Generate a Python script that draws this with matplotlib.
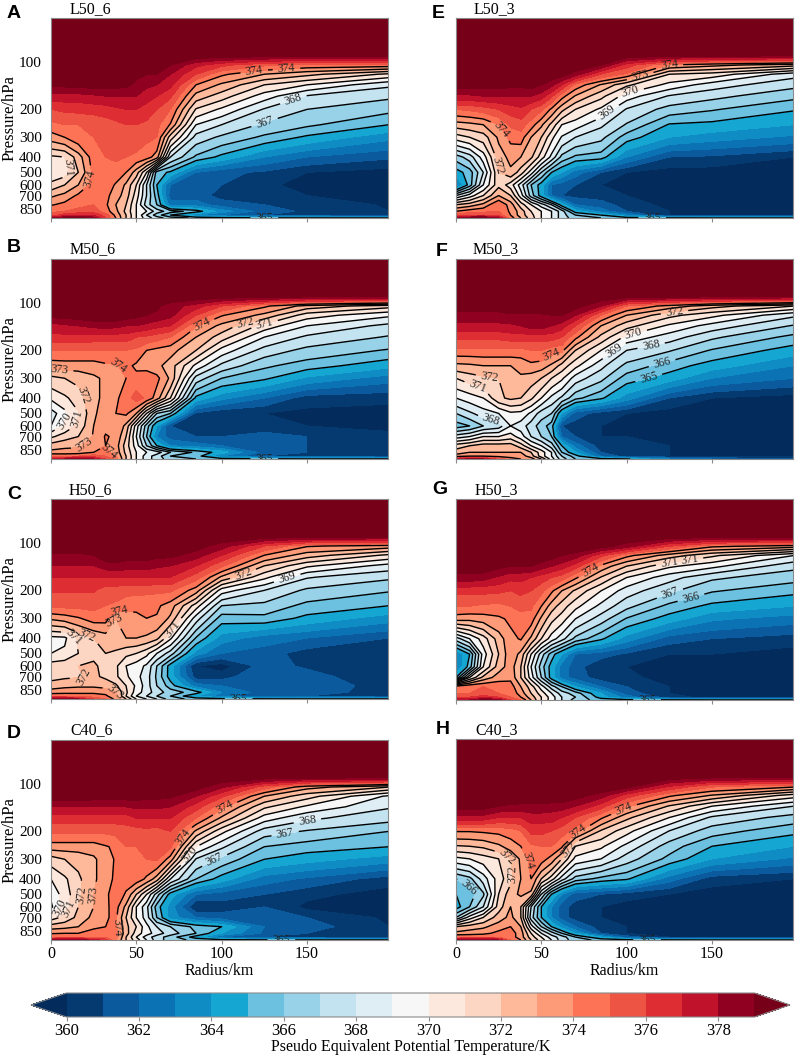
import numpy as np
import matplotlib
matplotlib.use("Agg")
import matplotlib.pyplot as plt
from matplotlib.colors import ListedColormap, BoundaryNorm

RADIUS = [0, 8, 16, 25, 32, 38, 44, 50, 56, 62, 70, 85, 100, 125, 150, 198]
PRESSURE = [53, 90, 105, 120, 140, 165, 200, 250, 300, 400, 500, 600, 700, 800, 880, 930, 970]

THETA_A = [
 [381]*16,
 [380]*16,
 [380,380,380,380,380,380,380,379.7,379.5,379.2,379,377.3,376.3,375.2,374.7,374.6],
 [380,380,380,380,380,380,379.8,379.3,379,379,378,376,374.2,373,372.3,370.8],
 [379.3,379.3,379.4,379.5,379.5,379.4,379.3,378.7,378.2,378,377.3,374,372.8,371,370,368.2],
 [377.5,377.6,377.6,377.8,378,378,378,378,377.5,377,376.2,372.6,371.5,369.5,367.9,367.2],
 [376,376.2,376.3,376.4,376.5,376.8,377,377,376.5,376,375,370.9,369.8,367.9,367,366.3],
 [374.7,375,375,375.2,375.5,375.7,376,376,375.8,375.3,373.9,369,368,366.8,366.2,365],
 [373.5,374,374.7,375,375.2,375.4,375.6,375.5,375.2,375,371.5,367.6,366.8,365.8,364.8,363.3],
 [370.8,371,372.5,374.6,375,375.2,375,374.8,374.5,373.5,368,365.8,364.7,363,362,361.2],
 [370.2,370.5,372,374.3,374.8,374.5,374,372.5,370,365.5,364.8,362,361.3,360.8,360,359.5],
 [371.3,372,373,374.5,374.5,373.9,372.8,371,368,365,362,361.5,361,360.3,359.5,359.5],
 [372.8,373.3,374.2,374.8,374.3,373.5,372.5,370.5,368,365.5,361.5,361.5,360.6,360.5,360,359.7],
 [373.9,374.3,374.7,375,374.2,373,372,370,367.5,366,362.5,362.5,361.5,361,360.5,359.9],
 [374.8,375,375.3,375.5,374.5,373.3,371.7,370,369,367.5,366.5,365.5,363.5,361.5,360.8,360],
 [375.5,376.5,377,377,375.5,373.7,372,370,368,366.5,365,363,362,361,360.8,360],
 [378,379,379.5,378.5,376,374,372,370,368.5,367.5,366.5,365.8,365.5,365.3,365.2,365.2],
]
THETA_B = [
 [381]*16,
 [380]*16,
 [380,380,380,380,380,380,380,380,379.5,379.2,378.5,377.5,376,374.2,372.6,371.4],
 [379.4,379.5,379.6,379.8,379.8,379.8,379.6,379.3,379,378.8,378.3,376,374.1,372.7,370.5,369.2],
 [377.5,377.8,378,378.3,378.4,378.3,378,378,377.7,377.3,377,374.1,372.7,370.6,369,367.7],
 [376.7,376.7,376.7,376.5,376.5,376.5,376.5,376,375.8,375.5,375,373,371.5,369,367.8,366.9],
 [375,375,375,375,375,375,375,374.8,374,373.7,373.4,372,369.6,367.6,366.7,365.9],
 [373.4,373.5,373.5,373.5,373.8,373.9,374.3,373.8,373.7,373.3,372.5,369.7,367.7,366.2,365.5,364.3],
 [371.7,372,372.3,372.8,373.2,373.2,374,374.3,374.5,374.3,372.8,367.6,366,365.2,363.8,362.5],
 [370.2,370.8,371.5,372.8,373.2,373.8,374.5,375.5,374.8,373.5,371,364.7,363.3,362,360.5,360.3],
 [368.5,369.7,370.9,372.9,373.3,374,374.2,373,370,367,366,360.8,360.2,360,359.7,359.5],
 [369,370.2,371.3,373,373.7,374,372.7,369.5,366.5,364,361,360,360,360.3,360,359.5],
 [370.8,371.5,372,373.1,374.1,373.8,372,369,366,363,361.5,361,361,361.5,361,360.5],
 [372.5,372.8,372.8,373.5,374,373.5,371.5,369.5,367,365,363,362.5,362,361.7,361,360.5],
 [373.3,373.3,373.5,374,374.2,373.7,371.7,370,369,368.5,367,365.8,364.5,361.5,361,360.5],
 [375,375,375,375.5,375,374,372,370,368.5,367.5,366,365.5,363,361,361,360.5],
 [377.5,378,378.5,378,376,374.5,372,370,368.5,367.5,366.5,366,365.5,365.4,365.2,365.2],
]
THETA_C = [
 [381]*16,
 [380]*16,
 [380,380,380,380,380,380,380,380,380,380,380,379.5,378.5,376,374.1,373.6],
 [378.7,378.7,378.7,379,379.7,379.7,379.5,379.5,379.5,379.3,379.3,378.5,377,374,372.5,370.8],
 [378,378,378,378,378.5,378.7,378.5,378.5,378.5,378.2,378,377,375.2,372,370.2,368.6],
 [377,377,377,377,377,377,377,377,377,377,377,375.5,372.8,370.3,368.1,367.2],
 [376.1,376.1,376.1,376.1,375.5,375.5,375.3,375.3,375.3,375.2,375.2,373.5,369.5,368,366.8,366.1],
 [375.3,375.3,375.3,375.3,375,374.8,374.5,374.3,374.2,374.2,373.5,370.5,367,366.7,365.7,365],
 [373.2,373.5,373.9,374.5,374.4,373,373.3,373.7,374,373.9,372.8,368.5,365.5,365.7,364.7,363.5],
 [369.7,369.8,371.2,372,372.5,372.7,373,373,372.8,372.3,370.2,365.9,363.5,362.5,362,361],
 [370,370.2,371,371.7,372,371.8,371.3,371,370.3,369,367.5,363.5,362,361.5,360.5,360],
 [371.5,371.7,372,372.2,371.6,371.2,370,369.5,368.8,367,364.5,360,359.5,361.5,360.8,360],
 [371.6,371.8,371.9,372.2,371.8,371.2,370.2,369.3,368.5,366.8,364.5,360.5,360.5,362,361.5,360],
 [372.5,372.7,372.8,372.8,372.6,372.2,371,369.8,368.5,367,365.5,362.5,362,362,361.7,360.5],
 [373.5,373.7,373.8,373.8,373.7,373,371.2,369.5,368.5,367.5,366.5,365.5,363,361.5,361.2,360.8],
 [375,374.8,374.5,374.5,374.2,373.3,371,369,368,367,366,364,362.5,361,361,360.5],
 [378.5,379,378,376,375,373.7,372,370,369,368,366.5,365.6,365.4,365.3,365.2,365.2],
]
THETA_D = [
 [381]*16,
 [380]*16,
 [380,380,380,380,380,380,380,380,380,380,380,379.5,378.2,375.5,373.4,372],
 [379.7,379.7,379.6,379.5,379.5,379.5,379.5,379.5,379.3,379.3,379.2,378,376.2,373,371.4,368.8],
 [378,378,378,378,378,378,378,378.2,378.2,378.2,378,376.5,374.3,371.2,369.8,368.1],
 [376.5,376.5,376.5,376.5,376.5,376.5,376.5,377,377,377,377,375,372.8,369.5,368.2,367.4],
 [375.2,375.2,375.2,375.2,375.2,375.3,375.5,375.5,375.7,375.5,376,372.8,370.3,367.5,366.9,366],
 [373.5,373.5,373.5,373.5,373.9,374.2,375,375,375.2,375.5,375.2,370,368.2,366,365.5,365],
 [371.5,372,372.3,372.8,373.6,374.1,374.7,374.8,375,375.2,373.5,367.9,366.7,365,364.4,363.5],
 [370,370.8,371.8,372.8,373.6,374.2,374.3,374.6,373.8,372.5,369,366,364.5,362.5,361.8,360.5],
 [369.2,370.5,371.7,373,373.8,374.5,373.9,372,370,367.5,364.5,362,361.5,361,360.3,359.5],
 [368.8,370.5,372,373,373.8,374.4,372.7,370,368.3,365.5,363.5,360,360.5,361,359.7,359.5],
 [370.5,371.3,372.3,373.3,373.9,374.2,372,370,368.5,366,363.5,362,361.5,361.8,361,359.8],
 [372.5,372.7,373,373.8,374,374.2,372.3,371,369.3,368,367,365.7,365,362,361.5,360],
 [373.9,374,374,374.4,374.5,374.3,372.5,370.5,369.5,368.5,367.5,366,364,361.8,361,360.2],
 [375,375,375,375,375,374.5,372,370,368.5,367.5,366.5,364.5,362,361,360.7,360.2],
 [378,379,379,377.5,376.5,374,372,370.5,369,367.5,366.5,365.7,365.4,365.3,365.2,365.2],
]
THETA_E = [
 [381]*16,
 [380]*16,
 [380,380,380,380,380,380,380,380,380,380,380,379,376.5,373.9,373.3,372.4],
 [380,380,380,380,380,380,380,380,379.8,379.5,378.5,376,374.8,371,370.6,368.4],
 [379.5,379.5,379.5,379.5,379.3,379.3,379.5,379,378.3,377,374.7,372.9,371.2,369.7,368.5,367.3],
 [377.8,377.8,378,378,378,378,378,377.5,376.2,374.4,372.9,371.3,369.5,367.9,367.3,366.3],
 [375,375.2,375.5,376,376.5,376.8,376,375.2,373.8,372.3,371,369.8,367.9,366.6,366.1,365.1],
 [372.5,372.7,373,374,375.2,375.5,374.5,373.2,371.7,370,369.5,368.2,366.9,364.9,364.7,364],
 [370.5,371,371.5,373.2,374.3,374.5,373,372,370.3,368.9,368,367.3,365.5,364,363.5,362.8],
 [366.5,367.5,369.5,372.5,373.3,373,372.2,370.5,368.7,366.7,365.8,365.5,363,361,360.8,360],
 [364.5,365.5,368,372,372.8,371.5,369.5,367,365,364,362.5,361,360,359.5,359.5,359.5],
 [362.5,365.5,369,371.7,370.5,368.5,366,364.5,362,361.5,361,360,359.7,359.5,359.5,359.5],
 [368,369.5,371,373,372,369.5,366.5,364.5,362,361,360.7,360.5,360,359.5,359.5,359.5],
 [372,372.5,373.3,375,373.5,371.5,370,368.5,367,364.5,362,361.5,360.5,359.7,359.5,359.5],
 [374,374.5,374.7,375,373.8,372.5,371,370,369,367.5,364.5,362.5,361,360,359.5,359.5],
 [375.5,376,376,375.5,374,372.5,371.3,370,369,367.5,366,365,363,360,359.5,359.5],
 [378,379,379.5,378,374.5,373,371.5,370,369,367.5,366.5,366,365.5,365.3,365.2,365.2],
]
THETA_F = [
 [381]*16,
 [380]*16,
 [379.5,379.5,379.5,379.5,380,380,380,380,380,380,379.5,378,375,373.6,372.4,371],
 [378.7,378.7,378.7,378.7,378.8,378.8,378.8,378.8,379,379,378,375,373,371.3,370.3,368.2],
 [377.7,377.7,377.7,377.7,377.8,378,378.5,378.5,378,377.5,376,373,371.4,369.8,368.6,366.9],
 [376.3,376.3,376.3,376.3,376.5,376.5,376.5,376.5,376.5,376,374.3,371.7,369.7,368.5,367.2,365.7],
 [374.7,374.7,374.7,374.7,374.7,374.7,375,375,374.5,374.3,372,370,368,367.1,365.9,364.5],
 [372.7,372.8,373,373,373,373.2,373.7,373.5,372.8,371.6,370.3,368.3,366.7,365.5,364.5,363],
 [371,371.5,371.8,372,372.7,372.9,372.5,372,371,370.2,368.5,367.3,365.5,364.5,363,362],
 [369,369.5,370,371.8,372.2,372,371.2,370,368.7,367.8,366.3,365.2,363.5,361,360,359.5],
 [367,367.8,368.5,369,369.8,369.7,368.8,367.5,367,364,361.5,360.5,360,359.5,359.5,359.5],
 [365.5,366,367,367.5,369,368.5,367.5,366.5,365.5,361,360.5,360,359.5,359.5,359.5,359.5],
 [368.5,369,370,370,370.5,369.5,368,367,366,362,361,360,360,359.5,359.5,359.5],
 [371.5,372,372.5,372.5,372.5,371.5,370,369,367.5,365,362.5,360.5,360.5,360,359.5,359.5],
 [372.5,373,373,373,373,373,372,370.5,369,366,364,361,360.5,360,360,360],
 [373.5,374,374,373.7,373.5,373.5,372.5,370.5,369,367,365.5,362,360.5,360,360,360],
 [377,378.5,378,375.5,374.5,374,373.5,372,369.5,367.5,366,365.5,365.2,363,362,361],
]
THETA_G = [
 [381]*16,
 [380]*16,
 [380,380,380,380,380,380,380,380,380,380,380,379.5,378.5,376,374.2,373.5],
 [380,380,380,380,380,380,380,379.8,379.5,379,378.5,376.3,374.3,372.5,371.2,369],
 [379.8,379.8,379.8,379.3,379,379,379,378.5,378,377.5,376.5,373.7,372,370.2,369.3,367.3],
 [378.6,378.6,378.4,377.8,377.3,377.3,377,376.5,376,375.5,374.2,371.9,370,368.4,367.2,366.4],
 [376.3,376.3,376.3,376.2,376,376.3,376,375.3,374.2,373,371.8,370,368.5,367.2,366.1,365.3],
 [375.1,375,374.8,374.7,375,375.2,375.2,374,372.5,371.5,370.3,368.7,367.3,365.7,364.7,364],
 [373.4,373.3,373.5,373.8,374.2,374.7,374.5,372.8,371.3,370.5,369,367.5,365.9,364.5,363.2,362.5],
 [367.5,369,370.5,372.5,373.7,374.1,372.8,371,369.5,368.4,366.7,365.2,363.5,361.5,361,360.5],
 [363,365,369.5,372,373.7,372.7,370,367.5,365.5,364,362,361.5,360.8,360,360,359.5],
 [362.8,365.5,370,372.5,373.5,372,369,366.5,364.5,362.5,361.5,360,360,359.5,359.5,359.5],
 [365,370,372.3,373.5,373.7,372,369.5,367,364.5,362.5,361.5,360.5,360.3,359.5,359.5,359.5],
 [374.7,375,375,374.7,374.5,373,371.5,369.5,367.5,366,364,362,361,360,359.5,359.5],
 [375,375,375.2,375,374.8,373.5,372,370.5,369,367.5,366.5,364,361.5,360,359.5,359.5],
 [376,376,376.5,376,375,374,372.5,371,369.5,368,367,364.5,362.5,360.5,359.5,359.5],
 [377.5,378,379.5,378.5,376,375,373,371,369.5,368,366.5,365.6,365.4,365.3,365.2,365.2],
]
THETA_H = [
 [381]*16,
 [380]*16,
 [380,380,380,380,380,380,380,380,380,380,380,380,379.5,377,375.2,374.3],
 [380,380,380,380,380,380,380,380,380,380,379.5,378.5,376.5,374.2,372.9,370.5],
 [379.5,379.5,379.5,379,378.8,378.7,378.7,378.7,378.5,378.5,378,376.5,374.2,371.9,370,368],
 [377.7,377.7,377.6,377,377,377,377.5,377.5,377.5,377,376,374.2,372.3,370,367.8,366.6],
 [374.1,374.1,374.2,374.3,374.5,375,376.3,376.3,376,375.5,374.5,371.9,370.4,368,366.5,365.3],
 [371.9,372,372.2,372.8,373.5,374,374.8,375,375,374.2,371,370.2,368.7,366.5,365,364],
 [369.7,370,370.5,371,372,373.2,374.4,374.5,373.6,372,369.7,369,367.5,365.7,364,362.8],
 [366,366.7,368.5,370.5,371.7,373,374,372,370.5,368.5,366.6,365.7,365.2,362.5,360.5,360],
 [365,365.5,366.8,371,372.6,373.2,372.7,368,365,363,361.5,361,360.5,360,359.5,359.5],
 [364.5,366,368,371.5,373,372,368,365,363,361.5,360.5,360,359.5,359.5,359.5,359.5],
 [367,369.5,371,372.5,373.3,372,367.5,365,363,361.5,360.5,360,359.7,359.5,359.5,359.5],
 [372,372.5,372.8,373.5,374,373,369.5,367,365,363.5,362,360.5,360,359.7,359.5,359.5],
 [373.3,373.5,373.7,374.3,374.5,373.5,371,369,367.5,366,364,361,360,359.7,359.5,359.5],
 [375,375,375,375,374.5,373.5,371.5,370,368.5,367.5,366,364,361.5,360,359.5,359.5],
 [378,379,379,378,375,374,372,370.5,369,367.5,366.5,365.7,365.4,365.3,365.2,365.2],
]

TITLES = ["L50_6", "M50_6", "H50_6", "C40_6", "L50_3", "M50_3", "H50_3", "C40_3"]
LETTERS = ["A", "B", "C", "D", "E", "F", "G", "H"]
FIELDS = [THETA_A, THETA_B, THETA_C, THETA_D, THETA_E, THETA_F, THETA_G, THETA_H]
FILL_LEVELS = list(range(360, 380))
LINE_LEVELS = list(range(365, 375))
FILL_COLORS = ["#053a70", "#0b5a9e", "#0b72b4", "#0f8cc3", "#15a6d2", "#6cc0e0", "#98d2e8",
               "#c3e3f0", "#dfeef5", "#f7f7f7", "#fde8dd", "#fcd6c2", "#fdb99a", "#fd9b78",
               "#fd7355", "#ee5444", "#de2d33", "#c0122a", "#900020"]
UNDER_COLOR = "#032b5c"
OVER_COLOR = "#770019"
PRESSURE_TICKS = [100, 200, 300, 400, 500, 600, 700, 850]
RADIUS_TICKS = [0, 50, 100, 150]
CBAR_TICKS = list(range(360, 380, 2))

# contour label anchor points (radius km, pressure hPa)
LABEL_SPOTS = [
    [(119,112),(138,112),(142,173),(125,238),(12,458),(24,550),(125,955)],
    [(43,218),(89,143),(114,135),(125,135),(19,385),(7,555),(15,540),(19,780),(34,880),(5,270),(125,955)],
    [(40,243),(37,310),(113,162),(138,162),(72,355),(12,420),(20,420),(21,700),(38,870),(110,955)],
    [(101,137),(77,217),(81,278),(96,305),(150,162),(137,200),(28,505),(20,505),(11,625),(5,600),(36,820),(135,955)],
    [(125,102),(108,124),(102,152),(90,219),(25,275),(24,456),(115,955)],
    [(53,187),(128,113),(104,156),(92,196),(114,178),(121,245),(113,300),(13,325),(19,330),(20,580)],
    [(78,143),(125,131),(137,131),(125,202),(137,207),(112,955)],
    [(98,143),(71,198),(66,260),(30,290),(44,305),(31,375),(7,460),(112,955)],
]

W, H = 796, 1059
# axes boxes in pixels: left, top, right, bottom
BOX_X = [(51, 388), (456, 793)]
BOX_Y = [[(18, 218), (259, 459), (499, 699), (740, 940)],
         [(18, 218), (259, 459), (499, 700), (739, 940)]]
LETTER_XY = [(14,14),(14,247),(14,495),(14,733),(438,14),(442,251),(440,489),(443,730)]
TITLE_XY = [(70,9),(70,249),(69,490),(70,730),(474,9),(473,249),(475,490),(475,730)]

plt.rcParams["font.family"] = ["Liberation Serif", "DejaVu Serif"]
GREY = "#8a8a8a"

cmap = ListedColormap(FILL_COLORS)
cmap.set_under(UNDER_COLOR)
cmap.set_over(OVER_COLOR)
norm = BoundaryNorm(FILL_LEVELS, cmap.N)

fig = plt.figure(figsize=(W / 100, H / 100), dpi=100)
R = np.array(RADIUS, dtype=float)
P = np.array(PRESSURE, dtype=float)

cf = None
for i, field in enumerate(FIELDS):
    col, row = i // 4, i % 4
    x0, x1 = BOX_X[col]
    y0, y1 = BOX_Y[col][row]
    ax = fig.add_axes([x0 / W, 1 - y1 / H, (x1 - x0) / W, (y1 - y0) / H])
    Z = np.array(field, dtype=float)
    cf = ax.contourf(R, P, Z, levels=FILL_LEVELS, cmap=cmap, norm=norm, extend="both")
    cs = ax.contour(R, P, Z, levels=LINE_LEVELS, colors="k", linewidths=1.0, linestyles="solid")
    ax.set_yscale("log")
    ax.set_xlim(0, 197.5)
    ax.set_ylim(970, 53)
    ax.clabel(cs, manual=LABEL_SPOTS[i], inline=True, fontsize=8.5, fmt="%d", colors="#222222")
    ax.set_xticks(RADIUS_TICKS)
    ax.minorticks_off()
    ax.tick_params(axis="x", length=3, width=0.8, color=GREY, labelsize=11.5, pad=1,
                   labelbottom=(row == 3))
    if col == 0:
        ax.set_yticks(PRESSURE_TICKS)
        ax.set_yticklabels([str(v) for v in PRESSURE_TICKS])
        ax.tick_params(axis="y", length=0, labelsize=11, pad=6.5)
        ax.set_ylabel("Pressure/hPa", fontsize=12, labelpad=1)
    else:
        ax.set_yticks([])
    ax.minorticks_off()
    if row == 3:
        ax.set_xlabel("Radius/km", fontsize=11.5, labelpad=1)
    for s in ax.spines.values():
        s.set_color(GREY)
        s.set_linewidth(0.8)
    lx, ly = LETTER_XY[i]
    fig.text(lx / W, 1 - ly / H, LETTERS[i], fontsize=14, fontweight="bold",
             family="Liberation Sans", ha="center", va="center")
    tx, ty = TITLE_XY[i]
    fig.text(tx / W, 1 - ty / H, TITLES[i], fontsize=11.5, ha="left", va="center")

# the axes box includes both end tips
cax = fig.add_axes([31 / W, 1 - 1017 / H, 759 / W, 24 / H])
cb = fig.colorbar(cf, cax=cax, orientation="horizontal", extend="both",
                  extendfrac=0.0516, ticks=CBAR_TICKS, spacing="proportional")
cb.ax.minorticks_off()
cb.ax.tick_params(length=3, width=0.8, color=GREY, labelsize=12, pad=1)
cb.outline.set_edgecolor(GREY)
cb.outline.set_linewidth(0.8)
cb.set_label("Pseudo Equivalent Potential Temperature/K", fontsize=11.5, labelpad=0)

fig.savefig("out.png", dpi=100)
